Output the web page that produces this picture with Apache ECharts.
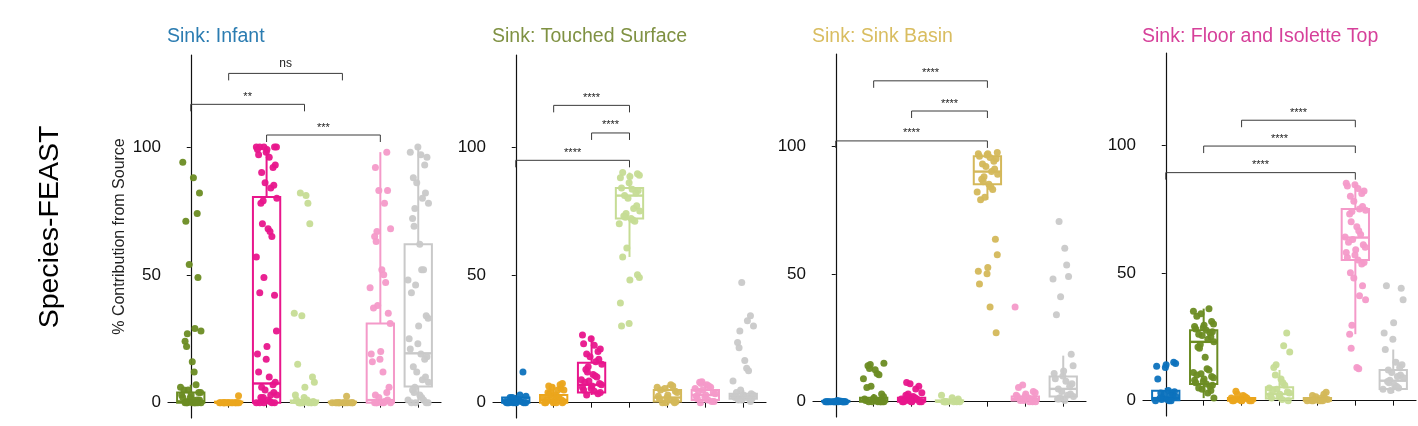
<!DOCTYPE html>
<html>
<head>
<meta charset="utf-8">
<script src="https://cdn.jsdelivr.net/npm/echarts@6/dist/echarts.min.js"></script>
<style>
  html, body { margin: 0; padding: 0; background: #fff; }
  #chart { width: 1418px; height: 426px; }
</style>
</head>
<body>
<div id="chart"></div>
<script>
// source colours
var BLUE = '#0d72bd', OLIVE = '#6b8c23', ORANGE = '#eba51c', MAGENTA = '#e8168c',
    LGREEN = '#c6dc95', TAN = '#d4b85a', PINK = '#f49ac9', GRAY = '#c9c9c9';

var rowLabel = 'Species-FEAST';
var yName = '% Contribution from Source';
var yTicks = [0, 50, 100];
var xTicks = [0, 1, 2, 3, 4, 5, 6];

var titles = ['Sink: Infant', 'Sink: Touched Surface', 'Sink: Sink Basin', 'Sink: Floor and Isolette Top'];
var titleColors = ['#2b7cb1', '#7f9142', '#d9bd60', '#d6409a'];

// --- Sink: Infant ---
var colors1 = [OLIVE, ORANGE, MAGENTA, LGREEN, TAN, PINK, GRAY];
// [lower whisker, q1, median, q3, upper whisker]
var boxes1 = [
  [0, 0, 0.5, 4, 7],
  [0, 0, 0, 0.4, 0.8],
  [0, 0, 7.5, 80.5, 100],
  [0, 0, 0, 0.8, 2],
  [0, 0, 0, 0.4, 0.8],
  [0, 0, 1, 31, 98],
  [0, 6.3, 19.3, 62, 100]
];
var points1 = [
  [94, 88, 82, 74, 71, 54, 49, 29, 28, 27, 24, 22, 16, 12, 7, 6, 5, 5, 4, 4, 3, 3, 2, 2, 1, 1, 1, 0.5, 0.5, 0, 0, 0, 0, 0, 0, 0, 0, 0],
  [2.7, 0, 0, 0, 0, 0, 0, 0, 0, 0, 0, 0, 0, 0, 0, 0],
  [100, 100, 100, 100, 100, 99, 99, 98, 97, 96, 93, 92, 90, 86, 85, 84, 80, 79, 78, 70, 68, 67, 65, 57, 49, 43, 42, 28, 22, 19, 17, 12, 10, 8, 7, 6, 5, 4, 3, 3, 2, 2, 1, 1, 0.5, 0, 0, 0, 0, 0],
  [82, 81, 78, 70, 35, 34, 15, 10, 8, 6, 3, 2, 1, 1, 0.5, 0, 0, 0, 0, 0, 0, 0, 0, 0],
  [2.5, 0, 0, 0, 0, 0, 0, 0, 0, 0, 0, 0, 0, 0],
  [98, 92, 83, 83, 78, 68, 67, 65, 63, 52, 50, 47, 45, 38, 37, 35, 31, 20, 19, 17, 16, 12, 6, 4, 3, 2, 1, 0.5, 0, 0, 0, 0, 0, 0],
  [100, 98, 97, 96, 93, 88, 86, 82, 80, 78, 76, 72, 69, 62, 52, 52, 48, 46, 43, 34, 33, 30, 25, 23, 21, 19, 18, 17, 14, 12, 10, 9, 8, 6, 5, 4, 3, 2, 1, 1, 0, 0, 0, 0]
];
// [from, to, height, label]
var brackets1 = [[0, 3, 116.7, '**'], [1, 4, 128.8, 'ns'], [2, 5, 104.7, '***']];

// --- Sink: Touched Surface ---
var colors2 = [BLUE, ORANGE, MAGENTA, LGREEN, TAN, PINK, GRAY];
var boxes2 = [
  [0, 0, 0.5, 2, 3],
  [0, 0, 1, 3, 7],
  [3, 4, 7, 15.6, 26],
  [57, 72, 81, 84, 90],
  [0, 0.5, 2, 5, 7],
  [0, 1, 3, 5, 8],
  [1, 1.5, 2.5, 3.5, 5]
];
var points2 = [
  [12, 3, 2.5, 2, 2, 1.5, 1, 1, 0.5, 0.5, 0, 0, 0, 0, 0, 0, 0, 0],
  [7.5, 7, 6.5, 6, 5.5, 5, 5, 4, 4, 3, 3, 2.5, 2, 2, 1.5, 1, 1, 0.5, 0.5, 0, 0, 0, 0, 0],
  [26.5, 25, 23, 22.5, 21, 20, 19, 18, 17, 16, 15, 14, 13, 12, 11, 10.5, 10, 9, 8.5, 8, 7.5, 7, 6.5, 6, 5.5, 5, 4.5, 4, 3.5, 3],
  [90, 89.5, 89, 88.5, 88, 86, 84, 83.5, 83, 82, 81, 80, 77, 76, 75, 74, 73, 72.5, 72, 71.5, 71, 70, 60.5, 57, 50, 49, 48, 39, 31, 30],
  [7, 6.5, 6, 5.5, 5, 4.5, 4, 3, 2.5, 2, 1.5, 1, 0.5, 0.5, 0, 0, 0],
  [8.2, 8, 7.5, 7, 6.5, 6, 5.5, 5, 4.5, 4, 3.5, 3, 2.5, 2, 1.5, 1, 0.5, 0.5, 0],
  [47, 34, 32, 30, 28, 23.5, 21.5, 16.5, 13.5, 12.5, 8.5, 5, 4, 3.5, 3, 3, 2.5, 2.5, 2, 2, 1.5, 1.5, 1, 1, 0.5]
];
var brackets2 = [[1, 3, 116.3, '****'], [2, 3, 105.5, '****'], [0, 3, 94.8, '****']];

// --- Sink: Sink Basin ---
var colors3 = [BLUE, OLIVE, MAGENTA, LGREEN, TAN, PINK, GRAY];
var boxes3 = [
  [0, 0, 0, 0.3, 0.6],
  [0, 0, 0.3, 1.5, 3],
  [0, 0, 0.5, 1.5, 3],
  [0, 0, 0, 0.5, 1],
  [79, 85, 90, 96, 97.5],
  [0, 0.5, 1, 2, 4],
  [0.5, 2, 5, 9.8, 18]
];
var points3 = [
  [0.5, 0.3, 0.2, 0, 0, 0, 0, 0, 0, 0, 0, 0, 0, 0, 0, 0, 0, 0],
  [15, 14.5, 14, 13, 12.5, 11, 10.5, 9, 6, 5.5, 3, 2, 1.5, 1, 1, 0.5, 0.5, 0, 0, 0, 0, 0, 0, 0],
  [7.5, 7, 6, 5, 3.5, 3, 2.5, 2, 2, 1.5, 1, 1, 0.5, 0.5, 0, 0, 0, 0, 0, 0],
  [2.5, 1.5, 1, 0.5, 0, 0, 0, 0, 0, 0, 0, 0],
  [97.5, 97, 97, 96.5, 96, 95.5, 95, 94, 93, 92, 91, 90, 89, 88, 87, 86, 85, 84, 83, 82, 80, 79, 63.5, 57.5, 52.5, 51, 50, 46, 37, 27],
  [37, 6.5, 5.5, 4, 3.5, 3, 2.5, 2, 2, 1.5, 1, 1, 0.5, 0.5, 0, 0, 0],
  [70.5, 60, 53.5, 49, 48, 41, 34, 18.5, 14, 12, 11, 10, 9, 8, 7, 6, 5, 4, 3, 2.5, 2, 1.5, 1, 1, 0.5]
];
var brackets3 = [[1, 4, 125.5, '****'], [2, 4, 113.7, '****'], [0, 4, 102, '****']];

// --- Sink: Floor and Isolette Top ---
var colors4 = [BLUE, OLIVE, ORANGE, LGREEN, TAN, PINK, GRAY];
var boxes4 = [
  [0, 0.2, 1, 3.9, 5],
  [1, 6.5, 23, 27.5, 36],
  [0, 0, 0.3, 1, 2],
  [0, 0.8, 2.6, 5.2, 12],
  [0, 0, 0.3, 1, 2],
  [26, 55, 63.8, 75, 85],
  [3, 4.6, 7.8, 12, 20]
];
var points4 = [
  [15, 14.5, 14, 13.5, 13, 8.5, 4, 3.5, 3, 3, 2.5, 2, 2, 1.5, 1, 1, 0.5, 0.5, 0, 0, 0],
  [36, 35, 34, 33, 31, 30, 29.5, 29, 28.5, 28, 27.5, 27, 26.5, 26, 25.5, 25, 24, 23, 22, 21, 20.5, 17, 12.5, 12, 11, 10.5, 10, 9.5, 9, 8.5, 8, 7.5, 7, 6.5, 6, 5.5, 5, 4.5, 4, 3, 1],
  [3.7, 2.5, 2, 1.5, 1, 1, 0.5, 0.5, 0, 0, 0, 0, 0, 0],
  [26.5, 21.5, 19, 14, 13, 10, 8.5, 7, 6, 5, 4.5, 4, 3.5, 3, 2.5, 2, 1.5, 1, 0.5, 0],
  [3.3, 2.5, 2, 1.5, 1, 1, 0.5, 0.5, 0, 0, 0, 0, 0, 0],
  [85, 84.5, 84, 83, 82, 81, 80, 78, 76, 75, 74.5, 74, 73, 70, 68, 66.5, 65, 64, 63, 62, 61, 60, 59, 58, 57, 56, 55, 54, 53.5, 50, 48, 45, 41, 39.5, 29.5, 26, 20.5, 13, 12.5],
  [45, 44, 39.5, 30.5, 26.5, 24, 20, 15, 14, 13, 12, 11, 10, 9.5, 9, 8, 7.5, 7, 6, 5.5, 5, 4.5, 4]
];
var brackets4 = [[2, 5, 109.7, '****'], [1, 5, 99.6, '****'], [0, 5, 89.2, '****']];

// fixed horizontal jitter pattern (category units), cycled through the points
var JITTER = [-0.21, 0.14, -0.04, 0.26, -0.15, 0.07, -0.27, 0.19, 0.01, -0.11, 0.23, -0.07,
              0.11, -0.24, 0.04, 0.17, -0.18, 0.27, -0.01, 0.09, -0.13, 0.21, -0.09];

var FONT = '"Liberation Sans", Arial, Helvetica, sans-serif';
var panels = [
  { colors: colors1, boxes: boxes1, points: points1, brackets: brackets1, left: 168, top: 55 },
  { colors: colors2, boxes: boxes2, points: points2, brackets: brackets2, left: 493, top: 55 },
  { colors: colors3, boxes: boxes3, points: points3, brackets: brackets3, left: 813, top: 54 },
  { colors: colors4, boxes: boxes4, points: points4, brackets: brackets4, left: 1143, top: 53 }
];

var HALF = 0.36;

function renderBox(params, api) {
  var x = api.value(0);
  var lo = api.value(1), q1 = api.value(2), md = api.value(3), q3 = api.value(4), hi = api.value(5);
  var col = api.visual('color');
  var tl = api.coord([x - HALF, q3]);
  var br = api.coord([x + HALF, q1]);
  var mL = api.coord([x - HALF, md]);
  var mR = api.coord([x + HALF, md]);
  var top = api.coord([x, hi]);
  var bot = api.coord([x, lo]);
  var st = { stroke: col, lineWidth: 2, fill: null };
  return {
    type: 'group',
    children: [
      { type: 'line', shape: { x1: top[0], y1: top[1], x2: top[0], y2: tl[1] }, style: st },
      { type: 'line', shape: { x1: bot[0], y1: br[1], x2: bot[0], y2: bot[1] }, style: st },
      { type: 'rect', shape: { x: tl[0], y: tl[1], width: br[0] - tl[0], height: br[1] - tl[1] },
        style: { stroke: col, lineWidth: 2, fill: '#fff' } },
      { type: 'line', shape: { x1: mL[0], y1: mL[1], x2: mR[0], y2: mR[1] }, style: { stroke: col, lineWidth: 2.4 } }
    ]
  };
}

function renderBracket(params, api) {
  var a = api.coord([api.value(0), api.value(2)]);
  var b = api.coord([api.value(1), api.value(2)]);
  var label = params.context.labels[params.dataIndex];
  var leg = 7;
  return {
    type: 'group',
    children: [
      { type: 'polyline', shape: { points: [[a[0], a[1] + leg], a, b, [b[0], b[1] + leg]] },
        style: { stroke: '#3a3a3a', lineWidth: 1, fill: null } },
      { type: 'text', x: (a[0] + b[0]) / 2, y: a[1] - (label === 'ns' ? 4 : 2),
        style: { text: label, fill: '#222', font: (label === 'ns' ? '12px ' : '11px ') + FONT,
                 align: 'center', verticalAlign: 'bottom' } }
    ]
  };
}

var grid = [], xAxis = [], yAxis = [], series = [], title = [];

panels.forEach(function (p, k) {
  grid.push({ left: p.left, top: p.top, width: 273, height: 363 });
  title.push({
    text: titles[k], left: p.left - 1, top: 27, padding: 0,
    textStyle: { color: titleColors[k], fontSize: 19.5, fontWeight: 'normal', fontFamily: FONT }
  });
  xAxis.push({
    type: 'value', gridIndex: k, min: -0.6, max: 6.6,
    axisLine: { show: true, lineStyle: { color: '#111', width: 1.2 } },
    axisTick: { show: true, customValues: xTicks, length: 5, lineStyle: { color: '#111' } },
    axisLabel: { show: false },
    splitLine: { show: false }
  });
  yAxis.push({
    type: 'value', gridIndex: k, min: -6, max: 136,
    name: k === 0 ? yName : '', nameLocation: 'middle', nameGap: 40,
    nameTextStyle: { color: '#222', fontSize: 16, fontFamily: FONT },
    axisLine: { show: true, lineStyle: { color: '#111', width: 1.2 } },
    axisTick: { show: true, customValues: yTicks, length: 4, lineStyle: { color: '#111' } },
    axisLabel: { customValues: yTicks, color: '#111', fontSize: 17, fontFamily: FONT, margin: 7 },
    splitLine: { show: false }
  });

  series.push({
    type: 'custom', xAxisIndex: k, yAxisIndex: k, z: 2,
    renderItem: renderBox,
    data: p.boxes.map(function (b, i) {
      return { value: [i].concat(b), itemStyle: { color: p.colors[i] } };
    })
  });

  var pts = [];
  p.points.forEach(function (vals, i) {
    vals.forEach(function (v, j) {
      var off = JITTER[(j * 5 + i * 3 + k * 7) % JITTER.length];
      pts.push([i + off, v, i]);
    });
  });
  series.push({
    type: 'scatter', xAxisIndex: k, yAxisIndex: k, z: 3,
    symbolSize: 7,
    itemStyle: { opacity: 0.95, color: function (prm) { return p.colors[prm.data[2]]; } },
    data: pts
  });

  var labels = p.brackets.map(function (b) { return b[3]; });
  series.push({
    type: 'custom', xAxisIndex: k, yAxisIndex: k, z: 4,
    renderItem: function (params, api) {
      params.context.labels = labels;
      return renderBracket(params, api);
    },
    data: p.brackets.map(function (b) { return [b[0], b[1], b[2]]; })
  });
});

var chart = echarts.init(document.getElementById('chart'), null, { renderer: 'canvas' });
chart.setOption({
  animation: false,
  backgroundColor: '#fff',
  title: title,
  grid: grid,
  xAxis: xAxis,
  yAxis: yAxis,
  series: series,
  graphic: [{
    type: 'text', x: 50, y: 227, rotation: Math.PI / 2,
    style: { text: rowLabel, font: '28.5px ' + FONT, fill: '#000', align: 'center', verticalAlign: 'middle' }
  }]
});
window.addEventListener('resize', function () { chart.resize(); });
</script>
</body>
</html>
